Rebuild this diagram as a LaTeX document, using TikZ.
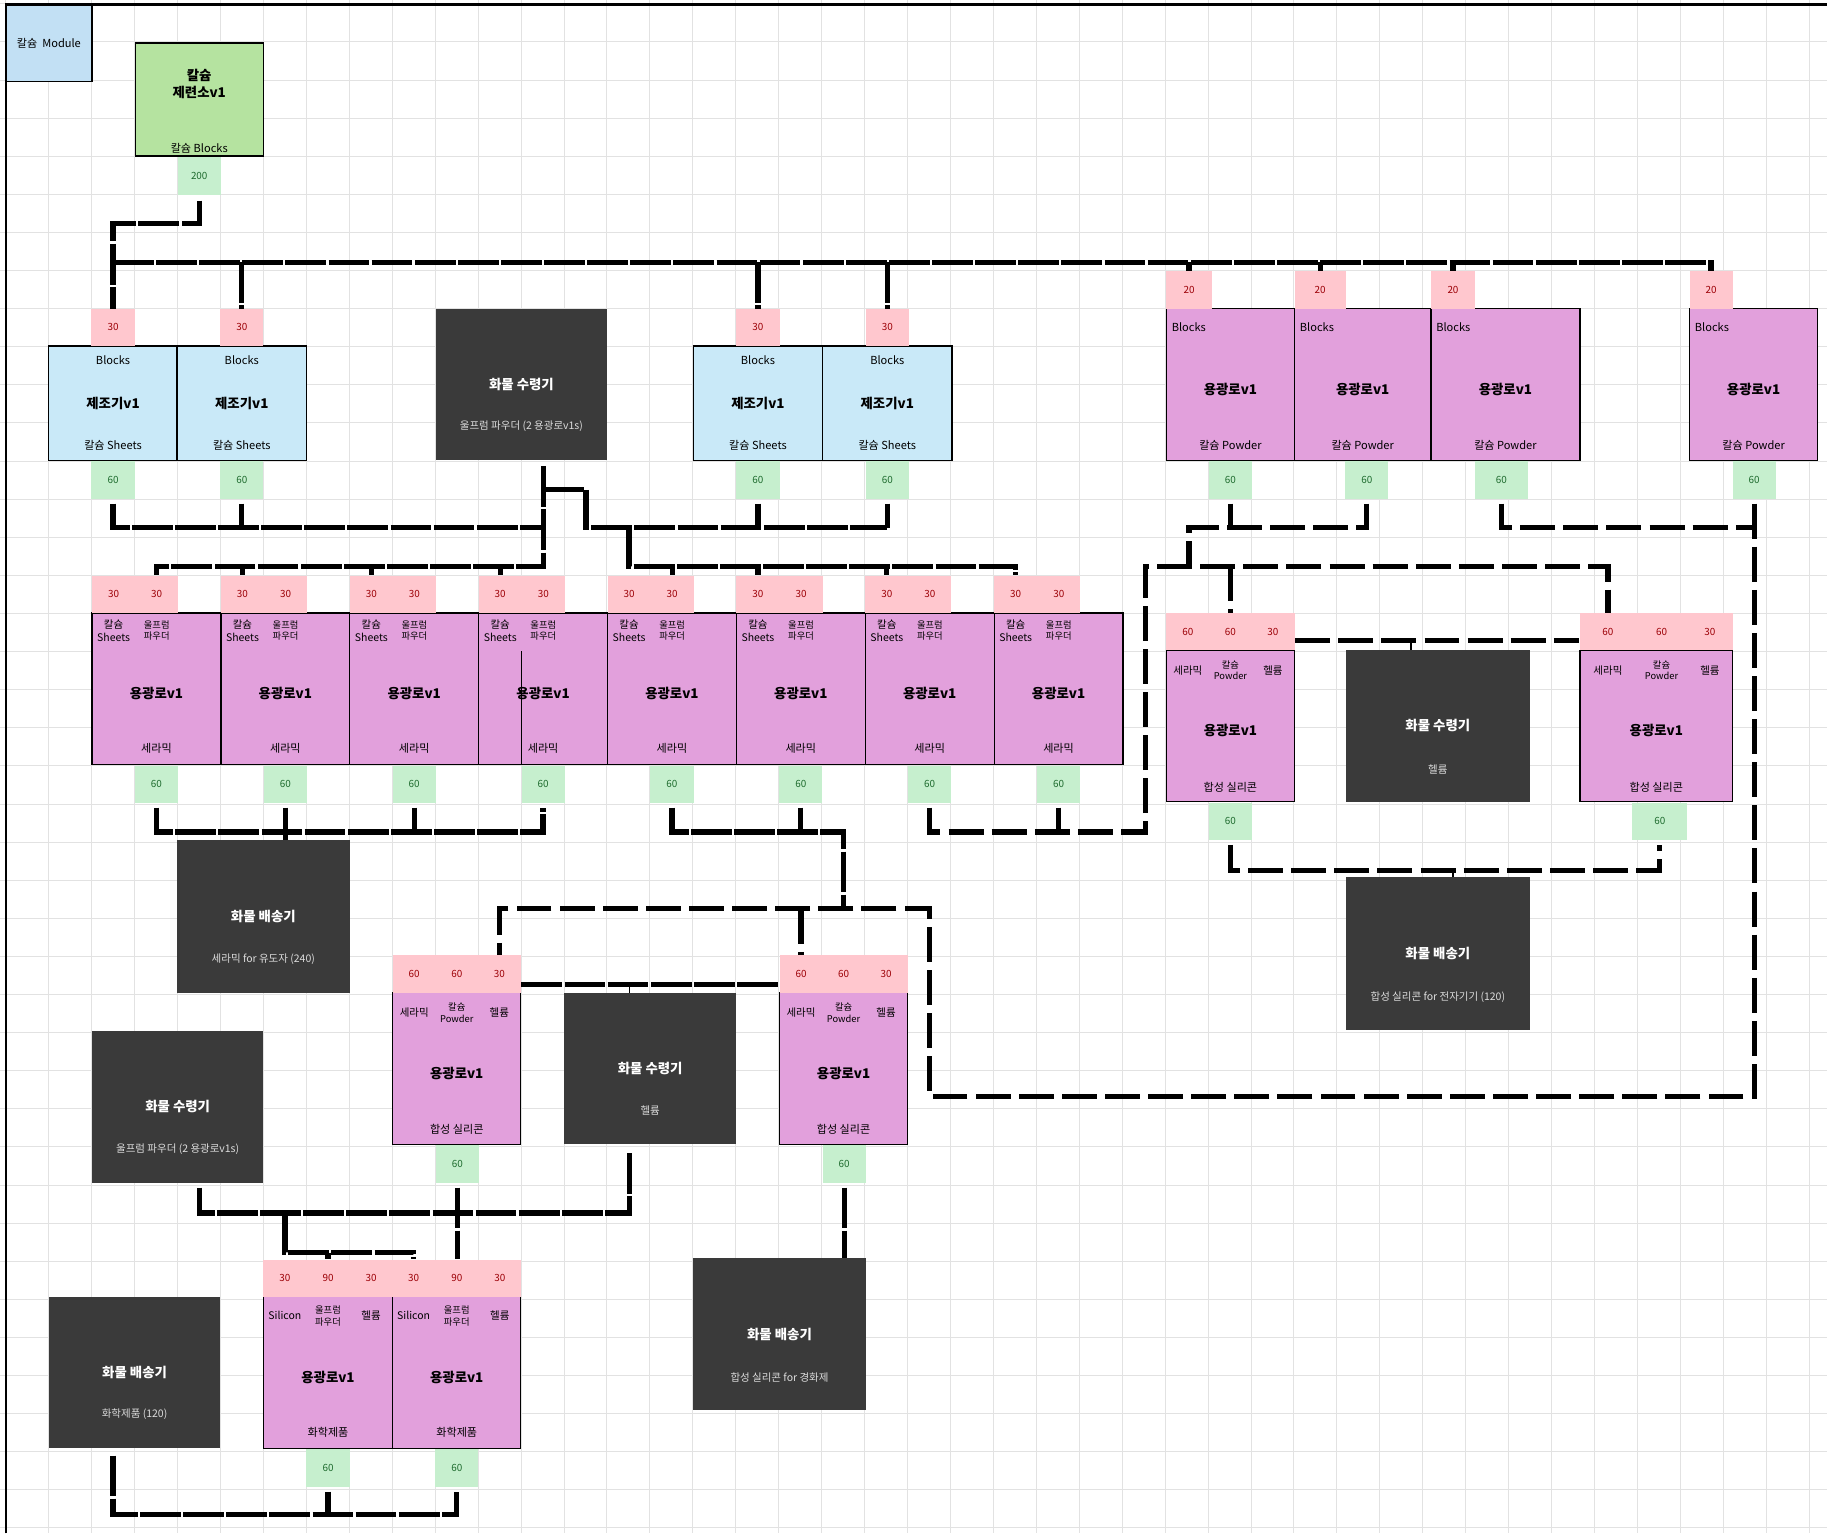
\documentclass[tikz,border=0pt]{standalone}
\usepackage{fontspec}
\setmainfont{Noto Sans CJK KR}
\usetikzlibrary{calc}

\definecolor{gridcol}{HTML}{E2E2E2}
\definecolor{modcol}{HTML}{C2E0F4}
\definecolor{smeltcol}{HTML}{B5E3A0}
\definecolor{makercol}{HTML}{C9E9F8}
\definecolor{furncol}{HTML}{E2A0DC}
\definecolor{darkcol}{HTML}{3A3A3A}
\definecolor{subtxt}{HTML}{DCDCDC}
\definecolor{tagin}{HTML}{FFC7CE}
\definecolor{tagintxt}{HTML}{9C0006}
\definecolor{tagout}{HTML}{C6EFCE}
\definecolor{tagouttxt}{HTML}{1E6B2E}

\newcommand\ftag{\fontsize{8.5}{10}\selectfont}
\newcommand\flab{\fontsize{9.5}{11}\selectfont}
\newcommand\fmid{\fontsize{9}{11}\selectfont}
\newcommand\fsmall{\fontsize{8}{10}\selectfont}
\newcommand\ftitle{\fontsize{11.5}{15}\selectfont\bfseries}
\newcommand\fsub{\fontsize{9}{11}\selectfont}

\tikzset{
  sized/.style 2 args={minimum width=#1, minimum height=#2},
  box/.style={draw=black, line width=1.1pt, inner sep=0pt, align=center},
  furn/.style={box, fill=furncol, font=\ftitle, text height=17pt, text depth=0pt},
  dark/.style={fill=darkcol, text=white, inner sep=0pt, font=\ftitle},
  darksub/.style={inner sep=0pt, font=\fsub, text=subtxt},
  intag/.style={fill=tagin, text=tagintxt, inner sep=0pt, font=\ftag},
  outtag/.style={fill=tagout, text=tagouttxt, inner sep=0pt, font=\ftag},
  lab/.style={inner sep=0pt, font=\flab, align=center},
  gridline/.style={draw=gridcol, line width=0.8pt},
  belt/.style={line width=4.5pt, dash pattern=on 35pt off 2pt},
  beltb/.style={line width=4.5pt, dash pattern=on 30pt off 7pt},
}

\begin{document}
\begin{tikzpicture}[x=1pt,y=-1pt]
  \useasboundingbox (0,0) rectangle (1568,1316);
  \fill[white] (0,0) rectangle (1568,1316);

  % Grid and frame.
  \foreach \gx in {5,41.85,...,1568} \draw[gridline] (\gx,0) -- (\gx,1316);
  \foreach \gy in {3.3,36,...,1316} \draw[gridline] (0,\gy) -- (1568,\gy);
  \draw[line width=2pt] (5,1316) -- (5,4) -- (1568,4);

  % Module and smelter.
  \node[box, fill=modcol, line width=1.6pt, sized={74}{66}, font=\flab] (mod) at (42,37) {칼슘\ \ Module};
  \node[box, fill=smeltcol, sized={110}{97}] (smelt) at (171,85.5) {};
  \node[lab, font=\ftitle] (smelt-t) at (171,72) {칼슘\\제련소v1};
  \node[lab] (smelt-b) at ([yshift=7pt]smelt.south) {칼슘 Blocks};
  \node[outtag, sized={37}{32}] (smelt-o) at (171,151) {200};

  % Sheet makers.
  \foreach \n/\x in {m1/97,m2/207.5,m3/650.5,m4/761.5}{
    \node[box, fill=makercol, font=\ftitle, sized={111}{98}] (\n) at (\x,346) {제조기v1};
    \node[lab] (\n-t) at ([yshift=-13pt]\n.north) {Blocks};
    \node[lab] (\n-b) at ([yshift=13pt]\n.south) {칼슘 Sheets};
    \node[intag, sized={37}{32}] (\n-i) at (\x,281) {30};
    \node[outtag, sized={37}{32}] (\n-o) at (\x,412) {60};
  }

  % Powder furnaces.
  \foreach \n/\x/\w/\ix/\iw/\ox/\ow in {p1/1056/110/1020.5/39/1056/37,p2/1169.5/117/1133/44/1173/37,p3/1292/128/1247/38/1288.5/45,p4/1505/110/1468.5/37/1505.5/37}{
    \node[furn, sized={\w}{130}] (\n) at (\x,330) {용광로v1};
    \node[lab, anchor=west] (\n-t) at ([xshift=5pt,yshift=-16pt]\n.north west) {Blocks};
    \node[lab] (\n-b) at ([yshift=13pt]\n.south) {칼슘 Powder};
    \node[intag, sized={\iw}{32}] (\n-i) at (\ix,249) {20};
    \node[outtag, sized={\ow}{32}] (\n-o) at (\ox,412) {60};
  }

  % Ceramic furnaces.
  \foreach \i in {1,...,8}{
    \pgfmathsetmacro\xl{79+110.6*(\i-1)}
    \node[furn, sized={110.6}{130}] (f\i) at (\xl+55.3,591) {용광로v1};
    \node[intag, sized={37}{32}] (f\i-a) at (\xl+18.5,510) {30};
    \node[intag, sized={37}{32}] (f\i-b) at (\xl+55.5,510) {30};
    \node[lab, font=\fmid] (f\i-ta) at ([yshift=-15pt]f\i-a.south) {칼슘\\Sheets};
    \node[lab, font=\fsmall] (f\i-tb) at ([yshift=-15pt]f\i-b.south) {울프럼\\파우더};
    \node[lab] (f\i-bt) at ([yshift=14pt]f\i.south) {세라믹};
    \node[outtag, sized={37}{32}] (f\i-o) at (\xl+55.3,673) {60};
  }
  \draw[line width=1pt] ($(f4.south west)+(37,0)$) -- ($(f4.south west)+(37,-98)$);

  % Silicone furnaces.
  \foreach \n/\x/\y/\w/\ax/\aw/\bx/\bw/\cx/\cw/\ox/\ow in {s1/1056/623/110/1019.5/37/1056/36/1092.5/37/1056/37,%
      s2/1421.5/623/131/1380/48/1426/44/1467.5/39/1424.5/47,%
      s3/392/917/110/355.5/37/392/36/428.5/37/392.5/37,%
      s4/724/917/110/687.5/37/724/36/760.5/37/724.5/37}{
    \node[furn, sized={\w}{130}] (\n) at (\x,\y) {용광로v1};
    \node[intag, sized={\aw}{32}] (\n-a) at (\ax,\y-81) {60};
    \node[intag, sized={\bw}{32}] (\n-b) at (\bx,\y-81) {60};
    \node[intag, sized={\cw}{32}] (\n-c) at (\cx,\y-81) {30};
    \node[lab, font=\fmid] (\n-ta) at ([yshift=-17pt]\n-a.south) {세라믹};
    \node[lab, font=\fsmall] (\n-tb) at ([yshift=-17pt]\n-b.south) {칼슘\\Powder};
    \node[lab, font=\fmid] (\n-tc) at ([yshift=-17pt]\n-c.south) {헬륨};
    \node[lab] (\n-bt) at ([yshift=13pt]\n.south) {합성 실리콘};
    \node[outtag, sized={\ow}{32}] (\n-o) at (\ox,\y+82) {60};
  }

  % Chemical furnaces.
  \foreach \n/\x/\w in {c1/281.5/111,c2/392/110}{
    \node[furn, sized={\w}{130}] (\n) at (\x,1178) {용광로v1};
    \node[intag, sized={37}{32}] (\n-a) at (\x-37,1097) {30};
    \node[intag, sized={37}{32}] (\n-b) at (\x,1097) {90};
    \node[intag, sized={37}{32}] (\n-c) at (\x+37,1097) {30};
    \node[lab, font=\fmid] (\n-ta) at ([yshift=-16pt]\n-a.south) {Silicon};
    \node[lab, font=\fsmall] (\n-tb) at ([yshift=-16pt]\n-b.south) {울프럼\\파우더};
    \node[lab, font=\fmid] (\n-tc) at ([yshift=-16pt]\n-c.south) {헬륨};
    \node[lab] (\n-bt) at ([yshift=14pt]\n.south) {화학제품};
    \node[outtag, sized={37}{32}] (\n-o) at (\x,1260) {60};
  }

  % Receivers and shippers.
  \node[dark, sized={147}{130}] (rcvA) at (447.5,330) {화물 수령기};
  \node[darksub] (rcvA-s) at ([yshift=-36pt]rcvA.center) {울프럼 파우더 (2 용광로v1s)};
  \node[dark, sized={158}{130}] (rcvB) at (1234,623) {화물 수령기};
  \node[darksub] (rcvB-s) at ([yshift=-37pt]rcvB.center) {헬륨};
  \node[dark, sized={148}{130}] (rcvC) at (558,917) {화물 수령기};
  \node[darksub] (rcvC-s) at ([yshift=-36pt]rcvC.center) {헬륨};
  \node[dark, sized={147}{130}] (rcvD) at (152.5,950) {화물 수령기};
  \node[darksub] (rcvD-s) at ([yshift=-36pt]rcvD.center) {울프럼 파우더 (2 용광로v1s)};
  \node[dark, sized={148}{131}] (shA) at (226,786.5) {화물 배송기};
  \node[darksub] (shA-s) at ([yshift=-37pt]shA.center) {세라믹 for 유도자 (240)};
  \node[dark, sized={158}{131}] (shB) at (1234,818.5) {화물 배송기};
  \node[darksub] (shB-s) at ([yshift=-37pt]shB.center) {합성 실리콘 for 전자기기 (120)};
  \node[dark, sized={148}{130}] (shC) at (669,1145) {화물 배송기};
  \node[darksub] (shC-s) at ([yshift=-37pt]shC.center) {합성 실리콘 for 경화제};
  \node[dark, sized={147}{130}] (shD) at (115.5,1178) {화물 배송기};
  \node[darksub] (shD-s) at ([yshift=-36pt]shD.center) {화학제품 (120)};

  % Junctions.
  \coordinate (j0) at (97,192);
  \coordinate (busL) at (97,225);
  \coordinate (yB) at (0,453);
  \coordinate (jB) at (503,453);
  \coordinate (yF) at (0,486);
  \coordinate (kL) at (983,486);
  \coordinate (yH) at (0,550);
  \coordinate (yO) at (0,714);
  \coordinate (kLow) at (983,714);
  \coordinate (yK) at (0,747);
  \coordinate (yM) at (0,780);
  \coordinate (yC) at (0,845);
  \coordinate (kE) at (798,941);
  \coordinate (yQ) at (0,1041);
  \coordinate (yR) at (0,1075);
  \coordinate (yS) at (0,1300);

  % Blocks.
  \draw[belt, shorten <=5pt] (smelt-o.south) |- (j0) -- (m1-i.north);
  \draw[belt] (busL) -- (p4-i.north |- busL) -- (p4-i.north);
  \foreach \n in {m2-i,m3-i,m4-i,p1-i,p2-i,p3-i} \draw[belt] (\n.north |- busL) -- (\n.north);

  % Sheets and wolfram powder.
  \draw[belt, shorten <=4pt] (m1-o.south) |- (f4-b.north |- yB);
  \draw[belt, shorten <=4pt] (m2-o.south) -- (m2-o.south |- yB);
  \draw[belt, shorten <=5pt] (rcvA.south -| f4-b) -- (f4-b.north |- yF) -| (f1-b.north);
  \foreach \n in {f2-a,f3-a,f4-a} \draw[belt] (\n.north |- yF) -- (\n.north);
  \draw[belt] ($(rcvA.south -| f4-b)+(0,25)$) -| (jB) -- (m4-o.south |- jB);
  \draw[belt, shorten <=4pt] (m3-o.south) -- (m3-o.south |- jB);
  \draw[belt, shorten <=4pt] (m4-o.south) -- (m4-o.south |- jB);
  \draw[belt] (f5-a.north |- jB) -- (f5-a.north |- yF) -| (f8-a.north);
  \foreach \n in {f5-b,f6-a,f7-a} \draw[belt] (\n.north |- yF) -- (\n.north);

  % Powder and ceramics to silicone.
  \draw[beltb, shorten <=4pt] (p1-o.south) -- (p1-o.south |- yB);
  \draw[beltb, shorten <=4pt] (p2-o.south) |- (p1-i.south |- yB) -- (p1-i.south |- kL);
  \draw[beltb, shorten <=4pt] (f7-o.south) |- (kLow) -- (kL) -| (s2-a.north);
  \draw[beltb, shorten <=4pt] (f8-o.south) -- (f8-o.south |- kLow);
  \draw[beltb] (s1-b.north |- kL) -- (s1-b.north);
  \draw[beltb, shorten <=4pt] (p3-o.south) |- (p4-o.south |- yB);
  \draw[beltb, shorten <=4pt] (p4-o.south) |- (kE) |- (s3-c.north |- yM) -- (s3-c.north);
  \draw[beltb] (s4-a.north |- yM) -- (s4-a.north);

  % Ceramics.
  \draw[belt, shorten <=4pt, shorten >=4pt] (f1-o.south) |- (f4-o.south |- yO) -- (f4-o.south);
  \draw[belt, shorten <=4pt] (f2-o.south) -- (shA.north -| f2-o);
  \draw[belt, shorten <=4pt] (f3-o.south) -- (f3-o.south |- yO);
  \draw[belt, shorten <=4pt] (f5-o.south) |- (s4-b.north |- yO) -- (s4-b.north |- yM);
  \draw[belt, shorten <=4pt] (f6-o.south) -- (f6-o.south |- yO);

  % Helium.
  \draw[beltb] (s1.east |- yH) -- (s2.west |- yH);
  \draw[line width=1.2pt] ($(rcvB.north)+(-23,0)$) -- ($(rcvB.north |- yH)+(-23,0)$);
  \draw[belt] (s3.east |- yC) -- (s4.west |- yC);
  \draw[line width=1.2pt] ($(rcvC.north)+(-18,0)$) -- ($(rcvC.north |- yC)+(-18,0)$);

  % Silicone out.
  \draw[beltb, shorten <=4pt, shorten >=4pt] (s1-o.south) |- (s2-o.south |- yK) -- (s2-o.south);
  \draw[line width=1.2pt] (shB.north -| p3-i) -- (p3-i |- yK);
  \draw[belt, shorten <=4pt] (s4-o.south) -- (shC.north -| s4-o);
  \draw[belt, shorten <=4pt] (s3-o.south) -- (s3-o.south |- c2-b.north);

  % Wolfram powder and helium to chemicals.
  \draw[belt, shorten <=4pt, shorten >=7pt] ($(rcvD.south)+(18.5,0)$) |- ($(rcvC.south |- yQ)+(-18,0)$) -- ($(rcvC.south)+(-18,0)$);
  \draw[belt] (c1-a.north |- yQ) |- (c2-a.north |- yR) -- (c2-a.north);
  \draw[belt] (c1-b.north |- yR) -- (c1-b.north);

  % Chemicals out.
  \draw[belt, shorten <=6pt, shorten >=4pt] ($(shD.south)+(-18.5,0)$) |- (c2-o.south |- yS) -- (c2-o.south);
  \draw[belt, shorten <=4pt] (c1-o.south) -- (c1-o.south |- yS);
\end{tikzpicture}
\end{document}
